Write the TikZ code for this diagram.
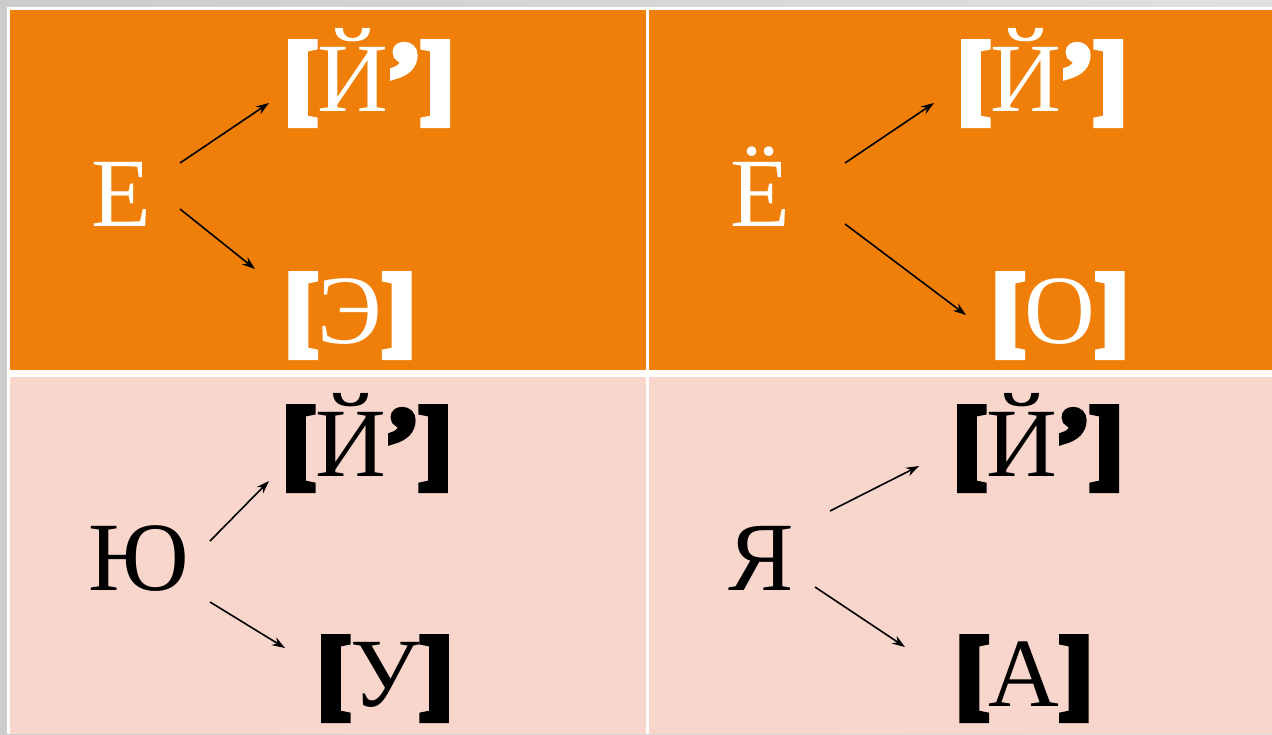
\documentclass[tikz,border=0pt]{standalone}
\usepackage{fontspec}
\usetikzlibrary{arrows.meta}
\setmainfont{Liberation Serif}
\newfontface\heavyface[FakeBold=8]{Liberation Serif Bold}
\definecolor{cellorange}{HTML}{F07F09}
\definecolor{cellpink}{HTML}{F9D6CC}
\newcommand\phon[1]{{\heavyface[}#1{\heavyface]}}
\newcommand\soft{{\heavyface’}}
\begin{document}
\begin{tikzpicture}[x=1pt,y=-1pt,>={Stealth[length=13pt,width=9pt]},line width=1.6pt,
  letter/.style={anchor=base,inner sep=0pt,font=\fontsize{98}{100}\selectfont},
  toptext/.style={letter,text=white},
  bottext/.style={letter,text=black}]
  \useasboundingbox (0,0) rectangle (1272,734);

  % фон и ячейки
  \shade[left color=black!20,right color=black!12] (0,0) rectangle (1272,734);
  \fill[white] (7,7) rectangle (1272,734);
  \fill[cellorange] (10,10) rectangle (646,370);
  \fill[cellorange] (649,10) rectangle (1272,370);
  \fill[cellpink] (10,377) rectangle (646,734);
  \fill[cellpink] (649,377) rectangle (1272,734);

  % буквы
  \node[toptext] (E) at (121,226) {Е};
  \node[toptext] (Yo) at (760,226) {Ё};
  \node[bottext] (Yu) at (139,590) {Ю};
  \node[bottext] (Ya) at (761,590) {Я};

  % звуки
  \node[toptext] (EJ) at (369,111) {\phon{Й\soft}};
  \node[toptext] (EE) at (350,343) {\phon{Э}};
  \node[toptext] (YoJ) at (1042,111) {\phon{Й\soft}};
  \node[toptext] (YoO) at (1060,343) {\phon{О}};
  \node[bottext] (YuJ) at (367,476) {\phon{Й\soft}};
  \node[bottext] (YuU) at (385,706) {\phon{У}};
  \node[bottext] (YaJ) at (1038,476) {\phon{Й\soft}};
  \node[bottext] (YaA) at (1024,706) {\phon{А}};

  % концы стрелок
  \coordinate (E1) at (180,163);
  \coordinate (E2) at (269,103);
  \coordinate (E3) at (180,209);
  \coordinate (E4) at (255,269);
  \coordinate (Yo1) at (845,163);
  \coordinate (Yo2) at (934,103);
  \coordinate (Yo3) at (845,224);
  \coordinate (Yo4) at (966,315);
  \coordinate (Yu1) at (210,541);
  \coordinate (Yu2) at (269,481);
  \coordinate (Yu3) at (210,602);
  \coordinate (Yu4) at (285,648);
  \coordinate (Ya1) at (830,511);
  \coordinate (Ya2) at (919,466);
  \coordinate (Ya3) at (815,587);
  \coordinate (Ya4) at (905,647);

  % стрелки
  \draw[->] (E1) -- (E2);
  \draw[->] (E3) -- (E4);
  \draw[->] (Yo1) -- (Yo2);
  \draw[->] (Yo3) -- (Yo4);
  \draw[->] (Yu1) -- (Yu2);
  \draw[->] (Yu3) -- (Yu4);
  \draw[->] (Ya1) -- (Ya2);
  \draw[->] (Ya3) -- (Ya4);
\end{tikzpicture}
\end{document}
